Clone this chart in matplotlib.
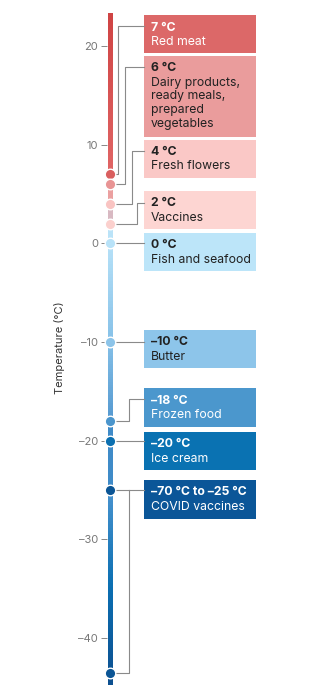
import matplotlib
matplotlib.use("Agg")
import matplotlib.pyplot as plt
import numpy as np
from matplotlib.collections import LineCollection
from matplotlib.colors import to_rgb
from matplotlib.patches import Rectangle
from matplotlib.ticker import FuncFormatter

plt.rcParams['font.family'] = ['Inter', 'DejaVu Sans']

# storage temperatures (deg C) and what is kept there
temps = [7, 6, 4, 2, 0, -10, -18, -20, -25]
titles = ["7 °C", "6 °C", "4 °C", "2 °C", "0 °C", "–10 °C", "–18 °C", "–20 °C",
          "–70 °C to –25 °C"]
labels = ["Red meat", "Dairy products,\nready meals,\nprepared\nvegetables",
          "Fresh flowers", "Vaccines", "Fish and seafood", "Butter",
          "Frozen food", "Ice cream", "COVID vaccines"]
box_colors = ["#dc6868", "#ea9c9c", "#fac8c6", "#fdd5d2", "#bce5f9",
              "#8dc5ea", "#4b97cd", "#0a72b2", "#0b5698"]
text_colors = ["white", "#222222", "#222222", "#222222", "#222222",
               "#222222", "white", "white", "white"]
dot_colors = ["#d95f5f", "#e89494", "#f9c4c2", "#fbd0cd", "#b8e2f8",
              "#8cc4e9", "#4b95cc", "#0b6fb0", "#0b5595"]
# box extents (top, bottom) in deg C and where the connector enters the box
box_top = [23.1, 19.0, 10.5, 5.3, 1.04, -8.8, -14.7, -19.1, -24.0]
box_bot = [19.3, 10.8, 6.6, 1.45, -2.8, -12.6, -18.6, -23.0, -27.9]
link_y = [22.0, 17.9, 9.35, 4.1, 0, -10, -15.8, -20, -25]
link_x = [118, 125, 132, 137, None, None, 129, None, None]
covid_low = -43.5  # where the -70 end sits on the truncated scale

# colour stops along the thermometer bar (temp, colour)
bar_stops = [(23.1, "#cf4343"), (7, "#e06565"), (7, "#e89090"), (6, "#e89090"),
             (6, "#eba0a0"), (4, "#eba0a0"), (4, "#d8b9c2"), (2, "#d8b9c2"),
             (2, "#bfe4f8"), (0, "#b8e2f8"), (-10, "#86c1e8"), (-18, "#5599d0"),
             (-18, "#3f8bc8"), (-25, "#3f8bc8"), (-25, "#4a94cf"),
             (-35, "#0b6fb2"), (-44.75, "#0d4f8f")]

fig = plt.figure(figsize=(3.2, 6.85), dpi=100)
ax = fig.add_axes([0, 0, 1, 1])
ax.set_xlim(0, 320)
ax.set_ylim(-44.75, 24.65)

bar_x = 110
segs, cols = [], []
for (t0, c0), (t1, c1) in zip(bar_stops[:-1], bar_stops[1:]):
    if t0 == t1:
        continue
    n = 30
    ts = np.linspace(t0, t1, n + 1)
    a, b = np.array(to_rgb(c0)), np.array(to_rgb(c1))
    for i in range(n):
        segs.append([(bar_x, ts[i]), (bar_x, ts[i + 1])])
        f = (i + 0.5) / n
        cols.append(a * (1 - f) + b * f)
ax.add_collection(LineCollection(segs, colors=cols, linewidths=3.6,
                                 capstyle='projecting', antialiaseds=False,
                                 zorder=2))

box_l, box_r = 144, 256
line_col = "#8a8a8a"
fs = 8.8
for i, t in enumerate(temps):
    ax.add_patch(Rectangle((box_l, box_bot[i]), box_r - box_l,
                           box_top[i] - box_bot[i], color=box_colors[i],
                           lw=0, zorder=1))
    ax.annotate(titles[i], (box_l + 7, box_top[i]), xytext=(0, -4.5),
                textcoords='offset points', va='top', ha='left',
                fontsize=fs, fontweight='bold', color=text_colors[i])
    ax.annotate(labels[i], (box_l + 7, box_top[i]), xytext=(0, -15),
                textcoords='offset points', va='top', ha='left',
                fontsize=fs, color=text_colors[i], linespacing=1.2)
    # connector
    if link_x[i] is None:
        xs, ys = [bar_x, box_l], [t, t]
    else:
        xs = [bar_x, link_x[i], link_x[i], box_l]
        ys = [t, t, link_y[i], link_y[i]]
    ax.plot(xs, ys, color=line_col, lw=0.8, zorder=1.5)
    ax.plot(bar_x, t, 'o', ms=7.6, color=dot_colors[i], mec='white',
            mew=1.0, zorder=3)

# bracket down to the -70 end of the COVID vaccine range
ax.plot([129, 129, bar_x], [-25, covid_low, covid_low], color=line_col,
        lw=0.8, zorder=1.5)
ax.plot(bar_x, covid_low, 'o', ms=7.6, color=dot_colors[-1], mec='white',
        mew=1.0, zorder=3)

for s in ax.spines.values():
    s.set_visible(False)
ax.spines['left'].set_position(('data', 107))
ax.set_xticks([])
ax.set_yticks([20, 10, 0, -10, -20, -30, -40])
ax.yaxis.set_major_formatter(FuncFormatter(lambda v, p: f"{v:.0f}".replace("-", "–")))
ax.tick_params(axis='y', length=4.5, width=0.7, color="#888888",
               labelcolor="#777777", labelsize=8, pad=2)
ax.set_ylabel("Temperature (°C)", fontsize=8, color="#333333")
ax.yaxis.set_label_coords(65 / 320, 0.492)

fig.savefig("out.png", dpi=100)
